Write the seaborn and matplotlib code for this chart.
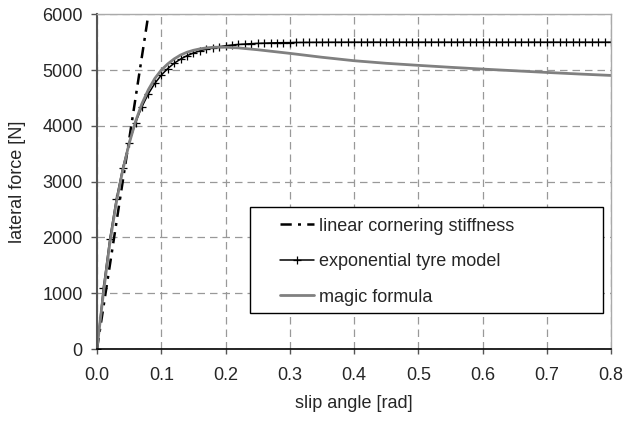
import matplotlib
matplotlib.use('Agg')
import matplotlib.pyplot as plt
from matplotlib.patches import Rectangle
import seaborn as sns
import numpy as np

# slip angle [rad] / lateral force [N]
lin_x = [0.0, 0.09]
lin_y = [0, 6750]

exp_x = [round(i * 0.01, 2) for i in range(81)]
exp_y = [0, 1100, 1980, 2684, 3245, 3696, 4057, 4345, 4576, 4762,
         4909, 5027, 5122, 5197, 5258, 5306, 5345, 5376, 5400, 5420,
         5436, 5449, 5459, 5467, 5474, 5479, 5483, 5487, 5490, 5492,
         5493, 5495, 5496, 5497, 5498, 5498, 5499, 5499, 5499, 5500,
         5500, 5500, 5500, 5500, 5500, 5500, 5500, 5500, 5500, 5500,
         5500, 5500, 5500, 5500, 5500, 5500, 5500, 5500, 5500, 5500,
         5500, 5500, 5500, 5500, 5500, 5500, 5500, 5500, 5500, 5500,
         5500, 5500, 5500, 5500, 5500, 5500, 5500, 5500, 5500, 5500,
         5500]

mf_x = [0.0, 0.01, 0.02, 0.03, 0.04, 0.05, 0.06, 0.07, 0.08, 0.09,
        0.10, 0.11, 0.12, 0.13, 0.14, 0.15, 0.16, 0.17, 0.18, 0.19,
        0.20, 0.22, 0.25, 0.30, 0.35, 0.40, 0.45, 0.50, 0.55, 0.60,
        0.65, 0.70, 0.75, 0.80]
mf_y = [0, 1000, 1900, 2620, 3200, 3680, 4080, 4400, 4650, 4850,
        5000, 5110, 5200, 5270, 5320, 5355, 5380, 5398, 5408, 5412,
        5410, 5398, 5365, 5300, 5230, 5168, 5122, 5085, 5050, 5018,
        4988, 4958, 4930, 4904]

sns.set_style('white')
plt.rcParams['font.family'] = ['Liberation Sans', 'DejaVu Sans']
FS = 13

fig = plt.figure(figsize=(6.38, 4.21), dpi=100)
ax = fig.add_axes([0.152, 0.171, 0.806, 0.795])

sns.lineplot(x=lin_x, y=lin_y, ax=ax, color='black', linewidth=1.8,
             linestyle=(0, (4.5, 2.5, 1.2, 2.5)),
             label='linear cornering stiffness')
sns.lineplot(x=exp_x, y=exp_y, ax=ax, color='black', linewidth=1.1,
             marker='+', markersize=5.5, markeredgewidth=0.9,
             markeredgecolor='black', markerfacecolor='black',
             label='exponential tyre model')
sns.lineplot(x=mf_x, y=mf_y, ax=ax, color='#808080', linewidth=2.0,
             label='magic formula')

ax.set_xlim(0, 0.8)
ax.set_ylim(0, 6000)
ax.set_xticks(np.arange(0, 0.81, 0.1))
ax.set_xticklabels([f'{v:.1f}' for v in np.arange(0, 0.81, 0.1)])
ax.set_yticks(range(0, 6001, 1000))
ax.grid(True, color='#999999', linestyle=(0, (6, 4)), linewidth=0.9)

ax.spines['left'].set_color('#555555')
ax.spines['left'].set_linewidth(1.5)
ax.spines['bottom'].set_color('black')
ax.spines['bottom'].set_linewidth(1.2)
for side in ['top', 'right']:
    ax.spines[side].set_color('#aaaaaa')
    ax.spines[side].set_linewidth(1.0)

ax.tick_params(axis='y', direction='out', length=4.3, width=1,
               color='#555555', labelsize=FS, pad=6, left=True)
ax.tick_params(axis='x', direction='out', length=3.6, width=1,
               color='#555555', labelsize=FS, pad=9, bottom=True)

ax.set_xlabel('slip angle [rad]', fontsize=FS, labelpad=8)
ax.set_ylabel('lateral force [N]', fontsize=FS, labelpad=12)

# legend box drawn separately so the padding can match the reference
box = Rectangle((0.298, 0.108), 0.686, 0.315, transform=ax.transAxes,
                facecolor='white', edgecolor='black', linewidth=1.0,
                zorder=4)
ax.add_patch(box)
leg = ax.legend(loc='upper left', bbox_to_anchor=(0.355, 0.392),
                frameon=False, fontsize=FS, handlelength=1.9,
                handletextpad=0.3, labelspacing=1.02,
                borderpad=0, borderaxespad=0)
leg.set_zorder(5)

fig.savefig('out.png', dpi=100)
